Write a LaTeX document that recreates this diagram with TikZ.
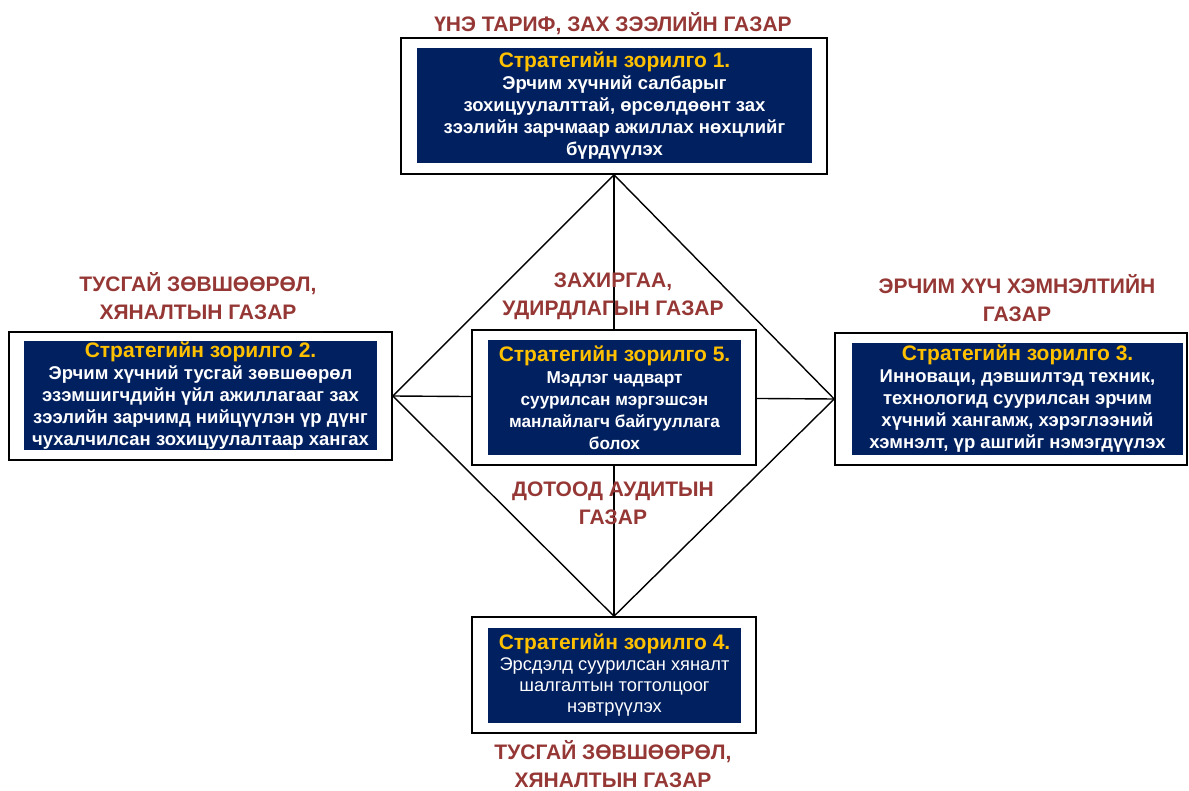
\documentclass[tikz,border=0pt]{standalone}
\usepackage{fontspec}
\setmainfont{Liberation Sans}
\usetikzlibrary{backgrounds}
\definecolor{goalnavy}{HTML}{002060}
\definecolor{goalgold}{HTML}{FFC000}
\definecolor{deptred}{HTML}{953735}
\newcommand\goalhead[1]{{\bfseries\color{goalgold}\fontsize{21}{22}\selectfont #1}}

\begin{document}
\begin{tikzpicture}[x=1pt,y=-1pt,
    frame/.style 2 args={draw=black, line width=1.6pt, fill=white, minimum width=#1, minimum height=#2, inner sep=0pt},
    goal/.style 2 args={fill=goalnavy, text=white, minimum width=#1, minimum height=#2, inner sep=0pt, align=center,
        font=\bfseries\fontsize{18.5}{22}\selectfont},
    dept/.style={text=deptred, align=center, inner sep=0pt, font=\bfseries\fontsize{21}{28}\selectfont}]
    \useasboundingbox (0,0) rectangle (1189,791);

    \node[frame={426}{136}] (g1) at (614,106) {};
    \node[goal={395}{115}] (z1) at (614.5,105.5) {\goalhead{Стратегийн зорилго 1.}\\
        Эрчим хүчний салбарыг\\ зохицуулалттай, өрсөлдөөнт зах\\ зээлийн зарчмаар ажиллах нөхцлийг\\ бүрдүүлэх};

    \node[frame={383}{128}] (g2) at (200.5,396) {};
    \node[goal={353}{109}] (z2) at (200.5,395.5) {\goalhead{Стратегийн зорилго 2.}\\
        Эрчим хүчний тусгай зөвшөөрөл\\ эзэмшигчдийн үйл ажиллагааг зах\\ зээлийн зарчимд нийцүүлэн үр дүнг\\ чухалчилсан зохицуулалтаар хангах};

    \node[frame={352}{132}] (g3) at (1011,399) {};
    \node[goal={331}{112}] (z3) at (1017.5,399) {\goalhead{Стратегийн зорилго 3.}\\
        Инноваци, дэвшилтэд техник,\\ технологид суурилсан эрчим\\ хүчний хангамж, хэрэглээний\\ хэмнэлт, үр ашгийг нэмэгдүүлэх};

    \node[frame={284}{135}] (g5) at (614,397.5) {};
    \node[goal={253}{115}, font=\bfseries\fontsize{17.2}{22}\selectfont] (z5) at (614.5,397.5) {\goalhead{Стратегийн зорилго 5.}\\
        Мэдлэг чадварт\\ суурилсан мэргэшсэн\\ манлайлагч байгууллага\\ болох};

    \node[frame={284}{116}] (g4) at (614,675) {};
    \node[goal={253}{95}, font=\mdseries\fontsize{18.3}{21}\selectfont] (z4) at (614.5,675.5) {\goalhead{Стратегийн зорилго 4.}\\
        Эрсдэлд суурилсан хяналт\\ шалгалтын тогтолцоог\\ нэвтрүүлэх};

    \node[dept] (d1) at (613,24) {ҮНЭ ТАРИФ, ЗАХ ЗЭЭЛИЙН ГАЗАР};
    \node[dept] (d2) at (198,296) {ТУСГАЙ ЗӨВШӨӨРӨЛ,\\ ХЯНАЛТЫН ГАЗАР};
    \node[dept] (d3) at (1017,298) {ЭРЧИМ ХҮЧ ХЭМНЭЛТИЙН\\ ГАЗАР};
    \node[dept] (d5) at (613,296) {ЗАХИРГАА,\\ УДИРДЛАГЫН ГАЗАР};
    \node[dept] (d6) at (613,503) {ДОТООД АУДИТЫН\\ ГАЗАР};
    \node[dept] (d4) at (613,764) {ТУСГАЙ ЗӨВШӨӨРӨЛ,\\ ХЯНАЛТЫН ГАЗАР};

    \begin{scope}[on background layer]
        \foreach \a/\b in {g1.south/g2.east, g2.east/g4.north, g4.north/g3.west, g3.west/g1.south,
                           g1.south/g4.north, g2.east/g3.west}
            \draw[line width=1.4pt] (\a) -- (\b);
    \end{scope}
\end{tikzpicture}
\end{document}
